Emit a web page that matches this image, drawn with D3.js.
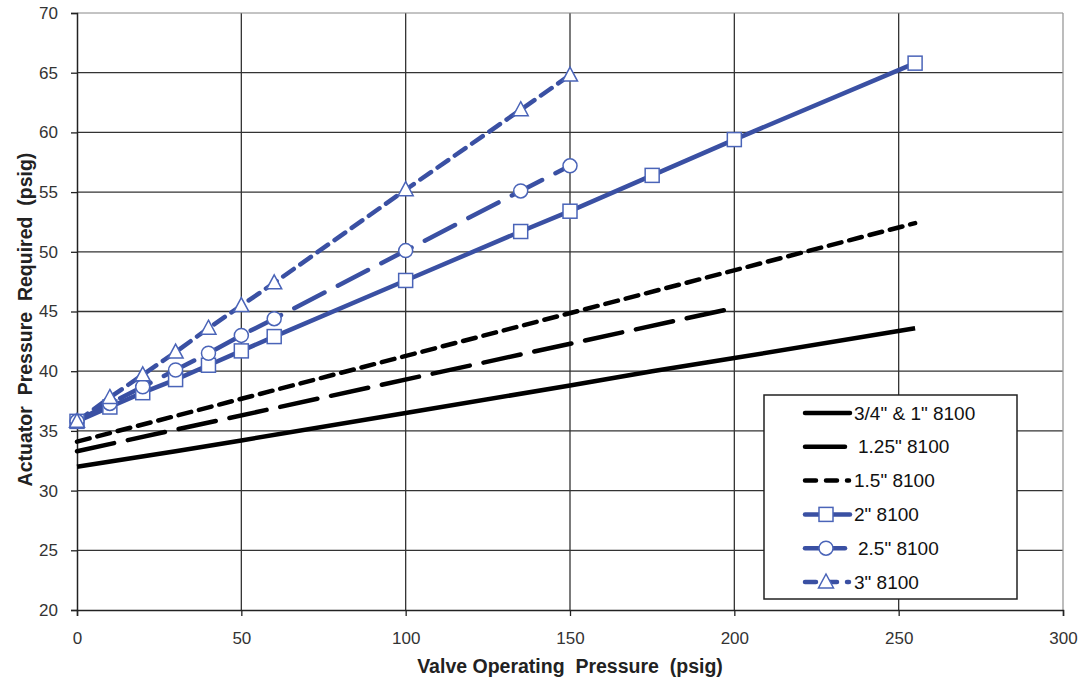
<!DOCTYPE html>
<html><head><meta charset="utf-8">
<script src="https://cdn.jsdelivr.net/npm/d3@7"></script>
<style>body{margin:0;background:#fff;}svg{display:block;font-family:Arial,"Liberation Sans",sans-serif;}</style>
</head><body><svg id="c" width="1084" height="682"></svg>
<script>
const xTicks = [0,50,100,150,200,250,300];
const yTicks = [20,25,30,35,40,45,50,55,60,65,70];
const seriesNames = ['3/4" & 1" 8100','1.25" 8100','1.5" 8100','2" 8100','2.5" 8100','3" 8100'];
const s1x = [0,30,50,100,150,175,200,255];
const s1y = [32.0,33.3,34.2,36.5,38.8,40.0,41.1,43.6];
const s2x = [0,200];
const s2y = [33.3,45.3];
const s3x = [0,255];
const s3y = [34.1,52.4];
const s4x = [0,10,20,30,40,50,60,100,135,150,175,200,255];
const s4y = [35.8,37.0,38.2,39.3,40.5,41.7,42.9,47.6,51.7,53.4,56.4,59.4,65.8];
const s5x = [0,10,20,30,40,50,60,100,135,150];
const s5y = [35.8,37.3,38.7,40.1,41.5,43.0,44.4,50.1,55.1,57.2];
const s6x = [0,10,20,30,40,50,60,100,135,150];
const s6y = [35.8,37.8,39.7,41.6,43.6,45.5,47.4,55.2,61.9,64.8];

const svg = d3.select('#c');
const L=77,R=1063,T=13,B=610;
const x = d3.scaleLinear().domain([0,300]).range([L,R]);
const y = d3.scaleLinear().domain([20,70]).range([B,T]);
const blue = '#3a50a3', mblue='#4a64b8';
const FONT = 'Arial,"Liberation Sans",sans-serif';

// grid
svg.append('g').selectAll('line').data(yTicks.slice(1,-1)).join('line')
 .attr('x1',L).attr('x2',R).attr('y1',d=>y(d)).attr('y2',d=>y(d)).attr('stroke','#333').attr('stroke-width',1.3);
svg.append('g').selectAll('line').data(xTicks.slice(1,-1)).join('line')
 .attr('y1',T).attr('y2',B).attr('x1',d=>x(d)).attr('x2',d=>x(d)).attr('stroke','#333').attr('stroke-width',1.3);
svg.append('line').attr('x1',L).attr('x2',R).attr('y1',T).attr('y2',T).attr('stroke','#888').attr('stroke-width',1);
svg.append('line').attr('x1',R).attr('x2',R).attr('y1',T).attr('y2',B).attr('stroke','#999').attr('stroke-width',1.3);

// axes
const ya = svg.append('g').attr('transform',`translate(${L},0)`).call(d3.axisLeft(y).tickValues(yTicks).tickSize(6).tickPadding(13));
const xa = svg.append('g').attr('transform',`translate(0,${B})`).call(d3.axisBottom(x).tickValues(xTicks).tickSize(6).tickPadding(16));
[ya,xa].forEach(a=>{a.select('.domain').attr('stroke','#222').attr('stroke-width',1.5);
 a.selectAll('.tick line').attr('stroke','#222').attr('stroke-width',1.3);
 a.selectAll('text').attr('font-size',17).attr('fill','#333').attr('font-family',FONT);});

svg.append('text').attr('x',(L+R)/2).attr('y',673).attr('text-anchor','middle').attr('font-weight','bold').attr('font-size',19.5).attr('fill','#222')
 .style('white-space','pre').text('Valve Operating  Pressure  (psig)');
svg.append('text').attr('transform',`translate(32,${(T+B)/2+8}) rotate(-90)`).attr('text-anchor','middle').attr('font-weight','bold').attr('font-size',19.5).attr('fill','#222')
 .style('white-space','pre').text('Actuator  Pressure  Required  (psig)');

const series = [
 {xs:s1x,ys:s1y,color:'#000',dash:null,ldash:null,marker:null},
 {xs:s2x,ys:s2y,color:'#000',dash:'38,14',ldash:null,marker:null},
 {xs:s3x,ys:s3y,color:'#000',dash:'13,8',ldash:'11,10',marker:null},
 {xs:s4x,ys:s4y,color:blue,dash:null,ldash:null,marker:'square'},
 {xs:s5x,ys:s5y,color:blue,dash:'34,15',ldash:null,marker:'circle'},
 {xs:s6x,ys:s6y,color:blue,dash:'13,8',ldash:'11,10',marker:'triangle'}
];
const line = d3.line().x(d=>x(d[0])).y(d=>y(d[1]));
function drawMarker(g,type,cx,cy){
 if(type==='square') g.append('rect').attr('x',cx-7).attr('y',cy-7).attr('width',14).attr('height',14);
 else if(type==='circle') g.append('circle').attr('cx',cx).attr('cy',cy).attr('r',7);
 else if(type==='triangle') g.append('path').attr('d',`M${cx},${cy-8}L${cx+7.5},${cy+6}L${cx-7.5},${cy+6}Z`);
}
series.forEach(s=>{
 const pts = s.xs.map((v,i)=>[v,s.ys[i]]);
 svg.append('path').datum(pts).attr('d',line).attr('fill','none').attr('stroke',s.color).attr('stroke-width',4.5)
  .attr('stroke-dasharray',s.dash).attr('stroke-linecap',s.dash?'round':'butt');
});
series.forEach(s=>{
 if(!s.marker) return;
 const g = svg.append('g').attr('fill','#fff').attr('stroke',mblue).attr('stroke-width',1.5);
 s.xs.forEach((v,i)=>drawMarker(g,s.marker,x(v),y(s.ys[i])));
});

// legend
const lg = svg.append('g');
lg.append('rect').attr('x',764).attr('y',395).attr('width',253).attr('height',204).attr('fill','#fff').attr('stroke','#222').attr('stroke-width',1.5);
const rowY = d3.scaleLinear().domain([0,5]).range([413,582]);
series.forEach((s,i)=>{
 const yy = rowY(i);
 const x2 = (i===1||i===4)?845:(s.ldash?849:850);
 lg.append('line').attr('x1',805).attr('x2',x2).attr('y1',yy).attr('y2',yy).attr('stroke',s.color).attr('stroke-width',4.5)
  .attr('stroke-dasharray',s.ldash).attr('stroke-linecap','round');
 if(s.marker){const g=lg.append('g').attr('fill','#fff').attr('stroke',mblue).attr('stroke-width',1.5);drawMarker(g,s.marker,826,yy);}
 lg.append('text').attr('x',(i===1||i===4)?858:854).attr('y',yy+6.5).attr('font-size',19).attr('fill','#111').attr('font-family',FONT).text(seriesNames[i]);
});
</script></body></html>
